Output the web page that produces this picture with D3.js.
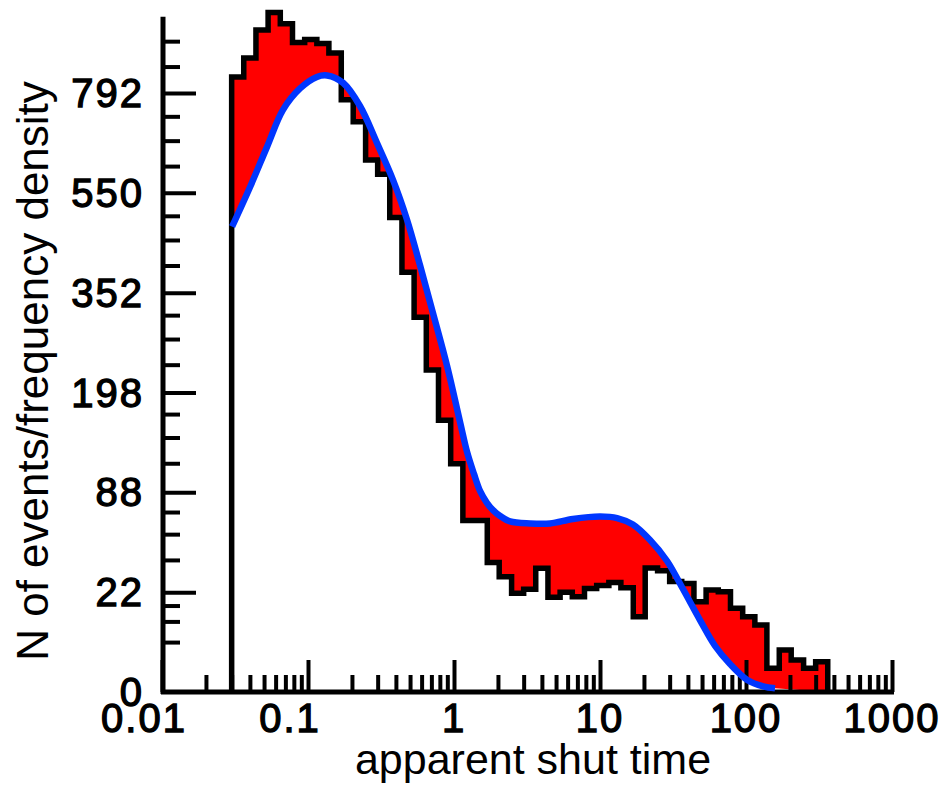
<!DOCTYPE html>
<html><head><meta charset="utf-8">
<script src="https://cdn.jsdelivr.net/npm/d3@7"></script>
<style>html,body{margin:0;padding:0;background:#fff;} svg{display:block;}</style>
</head><body>
<svg id="chart" width="943" height="785"></svg>
<script>
// ---- data ----
const binEdges = [0.03, 0.0363, 0.0440, 0.0533, 0.0646, 0.0783, 0.0949, 0.115, 0.139, 0.169,
  0.204, 0.248, 0.3, 0.363, 0.440, 0.533, 0.646, 0.783, 0.949, 1.15,
  1.39, 1.69, 2.04, 2.48, 3.0, 3.63, 4.40, 5.33, 6.46, 7.83,
  9.49, 11.5, 13.9, 16.9, 20.4, 24.8, 30, 36.3, 44.0, 53.3,
  64.6, 78.3, 94.9, 115, 139, 169, 204, 248, 300, 363];
const binDensity = [835, 887, 967, 1019, 986, 931, 940, 928, 901, 774,
  718, 625, 592, 497, 389, 310, 229, 163, 115, 65,
  65, 37, 29.3, 21.5, 23.3, 33.8, 19.8, 22, 20, 23.7,
  25, 26.5, 24, 12.5, 34, 32.5, 27, 26, 18, 23,
  22.2, 15.5, 12.5, 9.9, 1.24, 3.9, 2.26, 1.24, 2.03];
const fitTime = [0.0302, 0.0401, 0.0524, 0.0674, 0.0882, 0.115, 0.135, 0.174, 0.227, 0.297,
  0.382, 0.477, 0.585, 0.718, 0.896, 1.10, 1.23, 1.37,
  1.51, 1.68, 1.85, 2.07, 2.42, 3.32, 4.55, 6.53, 10.0, 13.1,
  16.8, 22.0, 28.8, 37.0, 48.4, 61.4, 77.7, 102, 131, 158];
const fitDensity = [478, 563, 656, 748, 804, 835, 839, 819, 758, 665,
  579, 492, 402, 317, 235, 161, 127, 105,
  89, 79, 73, 68.4, 64.2, 62.7, 62.7, 66.1, 68.0, 66.8,
  61.9, 51.0, 37.9, 23.4, 11.4, 4.67, 1.73, 0.32, 0.07, 0.03];
const xTickValues = [0.01, 0.1, 1, 10, 100, 1000];
const xTickLabels = ["0.01", "0.1", "1", "10", "100", "1000"];
const yTickValues = [0, 22, 88, 198, 352, 550, 792];
const yTickLabels = ["0", "22", "88", "198", "352", "550", "792"];
const yAxisTop = 1006.5;
const xTitle = "apparent shut time";
const yTitle = "N of events/frequency density";

// ---- scales ----
const svg = d3.select("#chart");
const x = d3.scaleLog().domain([0.01, 1000]).range([162, 892]);
const y = d3.scaleSqrt().domain([0, 792]).range([692, 93]);

// ---- geometry ----
const histPts = [];
binDensity.forEach((d, i) => { histPts.push([binEdges[i], d]); histPts.push([binEdges[i + 1], d]); });
const lastEdge = binEdges[binEdges.length - 1];
const fitPts = fitTime.map((t, i) => [t, fitDensity[i]]);

const linear = d3.line().x(d => x(d[0])).y(d => y(d[1]));
const smooth = d3.line().x(d => x(d[0])).y(d => y(d[1])).curve(d3.curveCatmullRom.alpha(0.5));

// fill between histogram and fitted curve
const fillPath = linear([...histPts, [lastEdge, 0]]) +
  smooth(fitPts.slice().reverse()).replace(/^M/, "L") + "Z";
svg.append("path").attr("d", fillPath).attr("fill", "#ff0000").attr("stroke", "none");

// ---- axes (ticks inward) ----
const xMinor = [];
xTickValues.slice(0, -1).forEach(v => { for (let m = 2; m <= 9; m++) xMinor.push(v * m); });
const yMinor = [];
for (let i = 0; i < yTickValues.length - 1; i++) {
  const a = yTickValues[i], b = yTickValues[i + 1];
  for (let k = 1; k <= 3; k++) yMinor.push(a + (b - a) * k / 4);
}
const yLastMajor = yTickValues[yTickValues.length - 1];
const topStep = (yAxisTop - yLastMajor) / 3;
yMinor.push(yLastMajor + topStep, yLastMajor + 2 * topStep);

function styleAxis(g) {
  g.select(".domain").remove();
  g.selectAll(".tick line").attr("stroke", "#000").attr("stroke-width", 4);
  g.selectAll(".tick text").remove();
}
svg.append("g").attr("transform", "translate(0,692)")
  .call(d3.axisBottom(x).tickValues(xMinor).tickSize(-17).tickFormat(() => "")).call(styleAxis);
svg.append("g").attr("transform", "translate(0,692)")
  .call(d3.axisBottom(x).tickValues(xTickValues).tickSize(-32).tickFormat(() => "")).call(styleAxis);
svg.append("g").attr("transform", "translate(163,0)")
  .call(d3.axisLeft(y).tickValues(yMinor).tickSize(-17).tickFormat(() => "")).call(styleAxis);
svg.append("g").attr("transform", "translate(163,0)")
  .call(d3.axisLeft(y).tickValues(yTickValues.slice(1)).tickSize(-33).tickFormat(() => "")).call(styleAxis);

// axis lines
svg.append("line").attr("x1", 163).attr("x2", 163).attr("y1", y(0) + 2).attr("y2", y(yAxisTop))
  .attr("stroke", "#000").attr("stroke-width", 5);
svg.append("line").attr("x1", 161).attr("x2", x(1000) + 2).attr("y1", y(0)).attr("y2", y(0))
  .attr("stroke", "#000").attr("stroke-width", 5);

// histogram outline
svg.append("path").attr("d", linear([[binEdges[0], 0], ...histPts, [lastEdge, 0]]))
  .attr("fill", "none").attr("stroke", "#000").attr("stroke-width", 5.5).attr("stroke-linejoin", "miter");

// fitted curve
svg.append("path").attr("d", smooth(fitPts))
  .attr("fill", "none").attr("stroke", "#0036ff").attr("stroke-width", 6.5).attr("stroke-linecap", "butt");

// ---- labels ----
const tickFont = "'Liberation Sans', Arial, sans-serif";
svg.append("g").selectAll("text").data(yTickValues).join("text")
  .attr("x", 144).attr("y", d => y(d) + 14)
  .attr("text-anchor", "end").attr("font-family", tickFont)
  .attr("font-size", 40).attr("letter-spacing", 2).attr("fill", "#000")
  .attr("stroke", "#000").attr("stroke-width", 1.3)
  .text((d, i) => yTickLabels[i]);
svg.append("g").selectAll("text").data(xTickValues).join("text")
  .attr("x", (d, i) => x(d) + (xTickLabels[i].includes(".") ? -18 : 0)).attr("y", 732)
  .attr("text-anchor", "middle").attr("font-family", tickFont)
  .attr("font-size", 40).attr("letter-spacing", 2).attr("fill", "#000")
  .attr("stroke", "#000").attr("stroke-width", 1.3)
  .text((d, i) => xTickLabels[i]);

svg.append("text").attr("x", 533).attr("y", 774).attr("text-anchor", "middle")
  .attr("font-family", tickFont).attr("font-size", 43).attr("fill", "#000").text(xTitle);
svg.append("text").attr("transform", "translate(48,371) rotate(-90)").attr("text-anchor", "middle")
  .attr("font-family", tickFont).attr("font-size", 44).attr("fill", "#000").text(yTitle);
</script>
</body></html>
